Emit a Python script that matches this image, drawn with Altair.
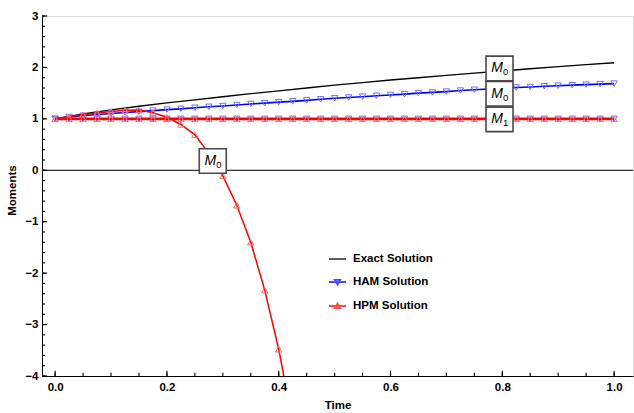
import altair as alt
import pandas as pd

# ---------------- data ----------------
t_pts = [0.0, 0.025, 0.05, 0.075, 0.1, 0.125, 0.15, 0.175, 0.2, 0.225,
         0.25, 0.275, 0.3, 0.325, 0.35, 0.375, 0.4, 0.425, 0.45, 0.475,
         0.5, 0.525, 0.55, 0.575, 0.6, 0.625, 0.65, 0.675, 0.7, 0.725,
         0.75, 0.775, 0.8, 0.825, 0.85, 0.875, 0.9, 0.925, 0.95, 0.975, 1.0]

ham_m0 = [1.00, 1.035, 1.06, 1.085, 1.105, 1.125, 1.14, 1.16, 1.18, 1.195,
          1.215, 1.235, 1.25, 1.27, 1.29, 1.305, 1.325, 1.34, 1.36, 1.38,
          1.40, 1.415, 1.43, 1.45, 1.465, 1.48, 1.50, 1.515, 1.53, 1.55,
          1.565, 1.58, 1.595, 1.61, 1.62, 1.635, 1.645, 1.655, 1.665, 1.675, 1.685]
ham_m1 = [1.0] * 41

hpm_t = [0.0, 0.025, 0.05, 0.075, 0.1, 0.125, 0.15, 0.175, 0.2, 0.225,
         0.25, 0.275, 0.3, 0.325, 0.35, 0.375, 0.4, 0.425]
hpm_m0 = [1.00, 1.04, 1.08, 1.115, 1.145, 1.165, 1.17, 1.12, 1.03, 0.89,
          0.69, 0.33, -0.11, -0.68, -1.40, -2.33, -3.48, -4.90]
hpm_m1 = [1.0] * 41

exact_t = [0.0, 0.05, 0.1, 0.15, 0.2, 0.25, 0.3, 0.35, 0.4, 0.45, 0.5,
           0.55, 0.6, 0.65, 0.7, 0.75, 0.8, 0.85, 0.9, 0.95, 1.0]
exact_m0 = [1.0, 1.095, 1.175, 1.245, 1.31, 1.37, 1.43, 1.49, 1.545, 1.60, 1.655,
            1.705, 1.755, 1.80, 1.845, 1.89, 1.93, 1.975, 2.015, 2.055, 2.09]
exact_m1 = [1.0] * 21

label_t = [0.795, 0.795, 0.795, 0.282]
label_y = [1.98, 1.49, 0.99, 0.18]
label_sub = ["0", "0", "1", "0"]

series_names = ["Exact Solution", "HAM Solution", "HPM Solution"]
series_colors = ["black", "blue", "red"]

X_MIN, X_MAX = -0.0235, 1.0338
Y_MIN, Y_MAX = -4, 3

y_major = [-4, -3, -2, -1, 0, 1, 2, 3]
y_minor = [v / 5 for v in range(-20, 16)]
x_major = [0.0, 0.2, 0.4, 0.6, 0.8, 1.0]
x_minor = [v / 20 for v in range(0, 21)]
zero_x = [-0.1, 1.1]
zero_y = [0.0, 0.0]

# ---------------- tables ----------------
df_ham = pd.DataFrame({"t": t_pts, "m0": ham_m0, "m1": ham_m1})
df_hpm0 = pd.DataFrame({"t": hpm_t, "m0": hpm_m0})
df_hpm1 = pd.DataFrame({"t": t_pts, "m1": hpm_m1})
df_exact = pd.DataFrame({"t": exact_t, "m0": exact_m0, "m1": exact_m1})
df_lab = pd.DataFrame({"t": label_t, "y": label_y, "sub": label_sub})
df_zero = pd.DataFrame({"t": zero_x, "y": zero_y})
df_leg = pd.DataFrame({"t": [0.5, 0.5, 0.5], "y": [10.0, 10.0, 10.0], "series": series_names})
df_xmaj = pd.DataFrame({"t": x_major, "y": [float(Y_MIN)] * len(x_major)})
df_xmin = pd.DataFrame({"t": x_minor, "y": [float(Y_MIN)] * len(x_minor)})
df_ymaj = pd.DataFrame({"t": [X_MIN] * len(y_major), "y": [float(v) for v in y_major]})
df_ymin = pd.DataFrame({"t": [X_MIN] * len(y_minor), "y": y_minor})

FONT = "Liberation Sans"
W, H = 591, 360
xs = alt.Scale(domain=[X_MIN, X_MAX], nice=False, zero=False)
ys = alt.Scale(domain=[Y_MIN, Y_MAX], nice=False, zero=False)


def X(field="t", axis=None):
    return alt.X(f"{field}:Q", scale=xs, axis=axis)


def Y(field, axis=None):
    return alt.Y(f"{field}:Q", scale=ys, axis=axis)


# ---------------- axes ----------------
x_label_axis = alt.Axis(orient="bottom", values=x_major, format=".1f", ticks=False,
                        domain=True, domainColor="black", domainWidth=1, grid=False,
                        labelFont=FONT, labelFontWeight="bold", labelFontSize=11.5,
                        labelColor="black", labelPadding=5, labelFlush=False,
                        labelOverlap=False, title="Time", titleFont=FONT,
                        titleFontWeight="bold", titleFontSize=11.5, titleColor="black",
                        titleY=29, titleBaseline="middle")
y_label_axis = alt.Axis(orient="left", values=y_major, ticks=False, domain=True,
                        domainColor="black", domainWidth=1, grid=False,
                        labelFont=FONT, labelFontWeight="bold", labelFontSize=11.5,
                        labelColor="black", labelPadding=4, labelOverlap=False,
                        title="Moments", titleFont=FONT, titleFontWeight="bold",
                        titleFontSize=11.5, titleColor="black", titleX=-30, titleY=174,
                        titleBaseline="middle", titleAlign="center")

zero_line = alt.Chart(df_zero).mark_line(color="black", strokeWidth=1, clip=True).encode(
    x=X(axis=x_label_axis), y=Y("y", axis=y_label_axis))


# inward-pointing frame ticks, drawn as short line segments from the frame edge
def tick_layer(df, path, size):
    return alt.Chart(df).mark_point(shape=path, size=size, filled=False, color="black",
                                    stroke="black", strokeWidth=1.1, opacity=1).encode(
        x=X(), y=Y("y"))


xt_major = tick_layer(df_xmaj, "M0,0L0,-1", 110)
xt_minor = tick_layer(df_xmin, "M0,0L0,-1", 40)
yt_major = tick_layer(df_ymaj, "M0,0L1,0", 110)
yt_minor = tick_layer(df_ymin, "M0,0L1,0", 40)

# ---------------- series ----------------
BLUE_MK = "#6f6fff"
RED_MK = "#ff6f6f"

exact0 = alt.Chart(df_exact).mark_line(color="black", strokeWidth=1.4, clip=True).encode(
    x=X(), y=Y("m0"))
exact1 = alt.Chart(df_exact).mark_line(color="black", strokeWidth=1.4, clip=True).encode(
    x=X(), y=Y("m1"))

ham0_line = alt.Chart(df_ham).mark_line(color="blue", strokeWidth=1.6, clip=True).encode(
    x=X(), y=Y("m0"))
ham0_pts = alt.Chart(df_ham).mark_point(shape="triangle-down", filled=False, size=40,
                                        color=BLUE_MK, strokeWidth=1, opacity=1,
                                        clip=True).encode(x=X(), y=Y("m0"))
ham1_line = alt.Chart(df_ham).mark_line(color="blue", strokeWidth=1.6, clip=True).encode(
    x=X(), y=Y("m1"))
ham1_pts = alt.Chart(df_ham).mark_point(shape="triangle-down", filled=False, size=40,
                                        color=BLUE_MK, strokeWidth=1, opacity=1,
                                        clip=True).encode(x=X(), y=Y("m1"))

hpm0_line = alt.Chart(df_hpm0).mark_line(color="red", strokeWidth=1.5, clip=True).encode(
    x=X(), y=Y("m0"))
hpm0_pts = alt.Chart(df_hpm0).mark_point(shape="triangle-up", filled=False, size=40,
                                         color=RED_MK, strokeWidth=1, opacity=1,
                                         clip=True).encode(x=X(), y=Y("m0"))
hpm1_line = alt.Chart(df_hpm1).mark_line(color="red", strokeWidth=2.6, clip=True).encode(
    x=X(), y=Y("m1"))
hpm1_pts = alt.Chart(df_hpm1).mark_point(shape="triangle-up", filled=False, size=40,
                                         color=RED_MK, strokeWidth=1, opacity=1,
                                         clip=True).encode(x=X(), y=Y("m1"))

# ---------------- label boxes ----------------
boxes = alt.Chart(df_lab).mark_point(shape="M-1,-0.91H1V0.91H-1Z", size=729, filled=True,
                                     fill="white", stroke="#4a4a4a", strokeWidth=1.6,
                                     opacity=1, fillOpacity=1).encode(x=X(), y=Y("y"))
m_text = alt.Chart(df_lab).mark_text(text="M", font=FONT, fontStyle="italic", fontSize=14,
                                     color="black", dx=-2.5, dy=0,
                                     baseline="middle").encode(x=X(), y=Y("y"))
sub_text = alt.Chart(df_lab).mark_text(font=FONT, fontSize=9.5, color="black", dx=6,
                                       dy=4, baseline="middle").encode(
    x=X(), y=Y("y"), text="sub:N")

# ---------------- legend ----------------
leg_paths = ["M-1,0H1",
             "M-1,0H1M-0.32,-0.26H0.32L0,0.28Z",
             "M-1,0H1M-0.32,0.26H0.32L0,-0.28Z"]
leg_props = dict(title=None, orient="none", legendX=286, legendY=233.5,
                 labelFont=FONT, labelFontWeight="bold", labelFontSize=11.5,
                 labelColor="black", labelOffset=6, symbolSize=289,
                 symbolStrokeWidth=1.8, symbolFillColor="white",
                 rowPadding=8, padding=0, offset=0)
legend = alt.Chart(df_leg).mark_point(filled=False, clip=True, strokeWidth=2).encode(
    x=X(), y=Y("y"),
    color=alt.Color("series:N", scale=alt.Scale(domain=series_names, range=series_colors),
                    legend=alt.Legend(**leg_props)),
    shape=alt.Shape("series:N", scale=alt.Scale(domain=series_names, range=leg_paths),
                    legend=alt.Legend(**leg_props)),
)

chart = alt.layer(
    zero_line,
    xt_major, xt_minor, yt_major, yt_minor,
    exact0, exact1,
    ham0_line, ham0_pts, ham1_line, ham1_pts,
    hpm0_line, hpm0_pts, hpm1_line, hpm1_pts,
    boxes, m_text, sub_text,
    legend,
).resolve_axis(x="independent", y="independent").properties(
    width=W, height=H,
    autosize=alt.AutoSizeParams(type="none"),
    padding={"left": 42, "top": 16, "right": 1, "bottom": 37},
).configure_view(stroke=None).configure(background="white")

chart.save("out.html", embed_options={"renderer": "svg", "actions": False})
